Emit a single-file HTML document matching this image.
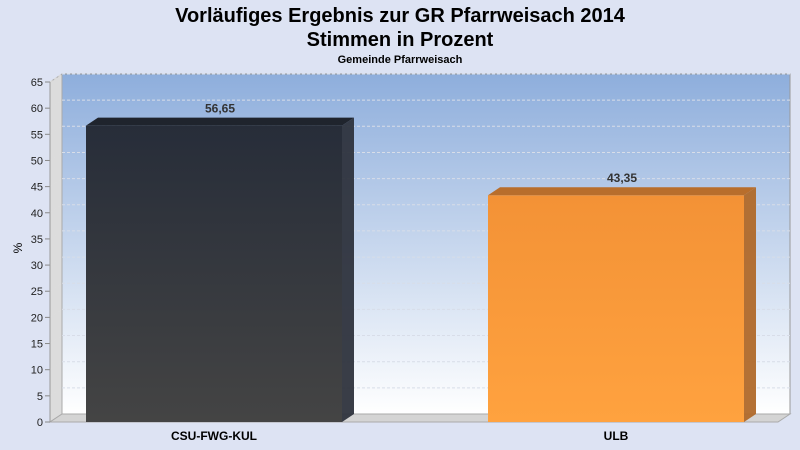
<!DOCTYPE html>
<html><head><meta charset="utf-8"><style>
body{margin:0;background:#dde3f3;font-family:"Liberation Sans",Arial,sans-serif}
svg{display:block}
</style></head><body>
<svg width="800" height="450">
<defs>
<linearGradient id="wall" x1="0" y1="0" x2="0" y2="1"><stop offset="0" stop-color="#8eaedc"/><stop offset="1" stop-color="#ffffff"/></linearGradient>
<linearGradient id="g0" x1="0" y1="0" x2="0" y2="1"><stop offset="0" stop-color="#272d39"/><stop offset="1" stop-color="#444444"/></linearGradient>
<linearGradient id="g1" x1="0" y1="0" x2="0" y2="1"><stop offset="0" stop-color="#f39236"/><stop offset="1" stop-color="#ffa23f"/></linearGradient>
</defs>
<rect width="800" height="450" fill="#dde3f3"/>
<text x="400" y="22" text-anchor="middle" font-size="20" font-weight="bold">Vorläufiges Ergebnis zur GR Pfarrweisach 2014</text>
<text x="400" y="46" text-anchor="middle" font-size="20" font-weight="bold">Stimmen in Prozent</text>
<text x="400" y="63" text-anchor="middle" font-size="11" font-weight="bold">Gemeinde Pfarrweisach</text>
<text x="22" y="248" text-anchor="middle" font-size="12" transform="rotate(-90 22 248)">%</text>
<g id="plot"></g>
</svg>
<script>
const categories=["CSU-FWG-KUL","ULB"];
const values=[56.65,43.35];
const valueLabels=["56,65","43,35"];
const ticks=[0,5,10,15,20,25,30,35,40,45,50,55,60,65];
const NS="http://www.w3.org/2000/svg";
const g=document.getElementById('plot');
const X0=50,Y0=422,DX=12,DY=-8,W=728,H=340,MAX=65,PAD=164;
const y=v=>Y0-v/MAX*H;
function el(t,a,p){const e=document.createElementNS(NS,t);for(const k in a)e.setAttribute(k,a[k]);(p||g).appendChild(e);return e;}
const wall=el('rect',{x:X0+DX,y:y(MAX)+DY,width:W,height:H,fill:'url(#wall)',stroke:'#999'});


const side=el('polygon',{points:`${X0},${Y0} ${X0},${y(MAX)} ${X0+DX},${y(MAX)+DY} ${X0+DX},${Y0+DY}`,fill:'#dcdcdc',stroke:'#aaa'});


const floor=el('polygon',{points:`${X0},${Y0} ${X0+W},${Y0} ${X0+W+DX},${Y0+DY} ${X0+DX},${Y0+DY}`,fill:'#d4d4d4',stroke:'#aaa'});


ticks.forEach(t=>{
  if(t>0){const gl=el('line',{x1:X0+DX,x2:X0+DX+W,y1:y(t)+DY,y2:y(t)+DY,stroke:'#d8dde8',"stroke-dasharray":'3,2'});
  
  
  el('line',{x1:X0,x2:X0+DX,y1:y(t),y2:y(t)+DY,stroke:'#ddd',"stroke-dasharray":'3,2'});}
  el('line',{x1:X0-5,x2:X0,y1:y(t),y2:y(t),stroke:'#888'});
  const tl=el('text',{x:X0-7,y:y(t)+4,"text-anchor":'end',"font-size":'11',fill:'#222'});
  tl.textContent=t;
  
  
});
el('line',{x1:X0,x2:X0,y1:Y0,y2:y(MAX),stroke:'#999'});
const n=categories.length, step=n>1?(W+2-2*PAD)/(n-1):0, bw=256;
const sides=['#2e333d','#b0692a'],tops=['#1f242d','#b86e2c'];
categories.forEach((c,i)=>{
  const cx=X0+PAD+step*i, x=cx-bw/2, yt=y(values[i]);
  const b=el('rect',{x:x,y:yt,width:bw,height:Y0-yt,fill:`url(#g${i})`});
  
  
  el('polygon',{points:`${x+bw},${Y0} ${x+bw},${yt} ${x+bw+DX},${yt+DY} ${x+bw+DX},${Y0+DY}`,fill:sides[i],opacity:0.95});
  el('polygon',{points:`${x},${yt} ${x+DX},${yt+DY} ${x+bw+DX},${yt+DY} ${x+bw},${yt}`,fill:tops[i]});
  const vl=el('text',{x:cx+6,y:yt+DY-5,"text-anchor":'middle',"font-size":'12',"font-weight":'bold',fill:'#333'});
  vl.textContent=valueLabels[i];
  
  
  const cl=el('text',{x:cx,y:440,"text-anchor":'middle',"font-size":'12',"font-weight":'bold'});
  cl.textContent=c;
  
  
});
</script>
</body></html>
